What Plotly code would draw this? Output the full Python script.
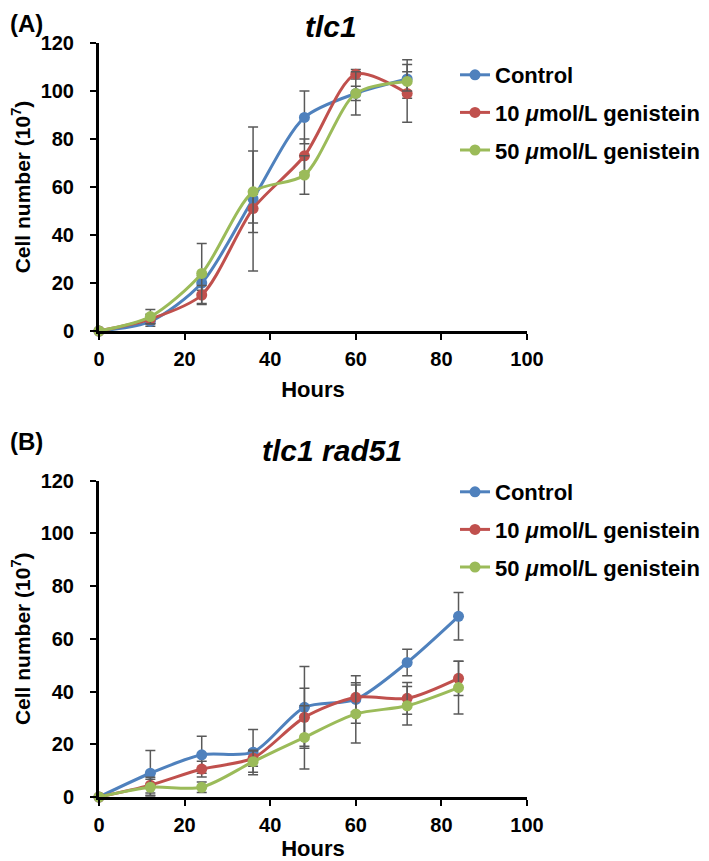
import plotly.graph_objects as go

# ---------------- data ----------------
hours_a = [0, 12, 24, 36, 48, 60, 72]
ctrl_a = [0, 4, 20, 55, 89, 99, 105]
ctrl_a_err = [0, 2, 3, 30, 11, 3, 8]
g10_a = [0, 5, 15, 51, 73, 107, 99]
g10_a_err = [0, 2, 4, 6, 7, 2, 12]
g50_a = [0, 6, 24, 58, 65, 99, 104]
g50_a_err = [0, 3, 12.5, 17, 8, 9, 4]

hours_b = [0, 12, 24, 36, 48, 60, 72, 84]
ctrl_b = [0, 9, 16, 17, 34, 37, 51, 68.5]
ctrl_b_err = [0, 8.6, 7, 8.6, 15.5, 9, 5, 9]
g10_b = [0, 4.5, 10.6, 14.7, 30.2, 37.8, 37.4, 45]
g10_b_err = [0, 3, 3, 3, 11, 5.5, 6, 6.5]
g50_b = [0, 3.7, 3.7, 13.4, 22.6, 31.5, 34.6, 41.5]
g50_b_err = [0, 3, 2, 4, 12, 11, 7.3, 10]

series_names = ["Control", "10 <i>μ</i>mol/L genistein", "50 <i>μ</i>mol/L genistein"]
colors = ["#4F81BD", "#C0504D", "#9BBB59"]
x_ticks = [0, 20, 40, 60, 80, 100]
y_ticks = [0, 20, 40, 60, 80, 100, 120]

FONT = "Arial, Liberation Sans, sans-serif"
OFF = 8  # page body margin in the browser
W, H = 709 - OFF, 861 - OFF


def px(x):
    return (x - OFF) / W


def py(y):
    return 1 - (y - OFF) / H


fig = go.Figure()

panels = [
    ("x", "y", "legend", hours_a, [(ctrl_a, ctrl_a_err), (g10_a, g10_a_err), (g50_a, g50_a_err)]),
    ("x2", "y2", "legend2", hours_b, [(ctrl_b, ctrl_b_err), (g10_b, g10_b_err), (g50_b, g50_b_err)]),
]
for xa, ya, lg, hrs, series in panels:
    for i, (vals, err) in enumerate(series):
        fig.add_trace(go.Scatter(
            x=hrs, y=vals, name=series_names[i], xaxis=xa, yaxis=ya, legend=lg,
            legendgroup=f"{lg}_{i}",
            mode="lines+markers", line=dict(color=colors[i], width=3, shape="spline", smoothing=0.8),
            marker=dict(color=colors[i], size=11, symbol="circle"),
            error_y=dict(type="data", array=err, color="#595959", thickness=1.5, width=5),
            cliponaxis=False,
        ))

axis_common = dict(
    showline=True, linecolor="black", linewidth=3, ticks="outside", ticklen=6, tickwidth=2,
    tickcolor="black", showgrid=False, zeroline=False, automargin=False,
    tickfont=dict(family=FONT, size=20, color="black", weight="bold"),
)
xt_font = dict(family=FONT, size=22, color="black", weight="bold")
yt_font = dict(family=FONT, size=21, color="black", weight="bold")
xdom = [px(99), px(527)]
leg_font = dict(family=FONT, size=22, color="black", weight="bold")
fig.update_layout(
    width=W, height=H, margin=dict(l=0, r=0, t=0, b=0, autoexpand=False),
    plot_bgcolor="white", paper_bgcolor="white",
    xaxis=dict(domain=xdom, range=[0, 100], tickvals=x_ticks, anchor="y", ticklabelstandoff=2,
               title=dict(text="Hours", font=xt_font, standoff=13), **axis_common),
    yaxis=dict(domain=[py(331), py(43)], range=[0, 120], tickvals=y_ticks, anchor="x",
               ticklabelstandoff=12,
               title=dict(text="Cell number (10<sup>7</sup>)", font=yt_font, standoff=24), **axis_common),
    xaxis2=dict(domain=xdom, range=[0, 100], tickvals=x_ticks, anchor="y2", ticklabelstandoff=2,
                title=dict(text="Hours", font=xt_font, standoff=13), **axis_common),
    yaxis2=dict(domain=[py(797), py(480.5)], range=[0, 120], tickvals=y_ticks, anchor="x2",
                ticklabelstandoff=12,
                title=dict(text="Cell number (10<sup>7</sup>)", font=yt_font, standoff=24), **axis_common),
    legend=dict(x=px(455), y=py(54), xanchor="left", yanchor="top", tracegroupgap=6,
                font=leg_font, bgcolor="rgba(0,0,0,0)"),
    legend2=dict(x=px(455), y=py(471), xanchor="left", yanchor="top", tracegroupgap=6,
                 font=leg_font, bgcolor="rgba(0,0,0,0)"),
    showlegend=True,
)

ann_font = dict(family=FONT, size=24, color="black", weight="bold")
title_font = dict(family=FONT, size=30, color="black", weight="bold", style="italic")
fig.add_annotation(text="(A)", x=0, y=1, xref="paper", yref="paper",
                   xanchor="left", yanchor="top", showarrow=False, font=ann_font)
fig.add_annotation(text="(B)", x=0, y=py(441), xref="paper", yref="paper",
                   xanchor="left", yanchor="middle", showarrow=False, font=ann_font)
fig.add_annotation(text="tlc1", x=px(331), y=1, xref="paper", yref="paper",
                   xanchor="center", yanchor="top", showarrow=False, font=title_font)
fig.add_annotation(text="tlc1 rad51", x=px(332), y=py(450), xref="paper", yref="paper",
                   xanchor="center", yanchor="middle", showarrow=False, font=title_font)

fig.write_html("out.html")
